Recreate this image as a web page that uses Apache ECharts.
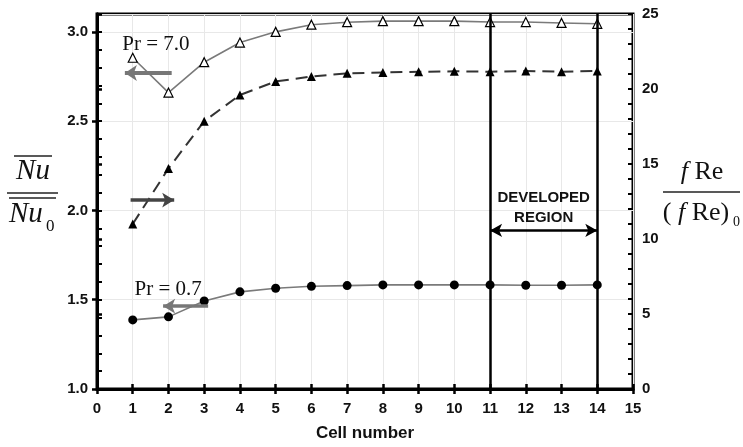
<!DOCTYPE html>
<html><head><meta charset="utf-8">
<script src="https://cdn.jsdelivr.net/npm/echarts@6/dist/echarts.min.js"></script>
<style>html,body{margin:0;padding:0;background:#fff}#c{width:743px;height:447px}</style>
</head><body><div id="c"></div>
<script>
// ---- data ----
const cells = [1, 2, 3, 4, 5, 6, 7, 8, 9, 10, 11, 12, 13, 14];
const nuPr7 = [2.855, 2.66, 2.83, 2.94, 3.0, 3.04, 3.054, 3.06, 3.06, 3.06, 3.055, 3.055, 3.05, 3.045];
const fRePr7 = [11.0, 14.7, 17.85, 19.6, 20.5, 20.83, 21.05, 21.1, 21.15, 21.18, 21.15, 21.2, 21.15, 21.2];
const nuPr07 = [1.387, 1.404, 1.493, 1.544, 1.564, 1.575, 1.579, 1.583, 1.583, 1.583, 1.583, 1.581, 1.581, 1.583];
const xRange = [0, 15];
const leftRange = [1.0, 3.1];
const rightRange = [0, 25];
const developedStart = 11;
const developedEnd = 14;
// annotation anchors (data units)
const pr7Label = { text: 'Pr = 7.0', x: 1.65, y: 2.93 };
const pr07Label = { text: 'Pr = 0.7', x: 1.99, y: 1.56 };
const devLabel = { text: 'DEVELOPED\nREGION', x: 12.5, y: 2.016 };
const pr7Arrow = [[2.09, 2.77], [0.78, 2.77]];
const pr07Arrow = [[3.11, 1.464], [1.85, 1.464]];
const fReArrow = [[0.94, 2.058], [2.16, 2.058]];
const devArrowY = 1.888;

const pair = (xs, ys) => xs.map((x, i) => [x, ys[i]]);

const chart = echarts.init(document.getElementById('c'), null, { renderer: 'canvas' });
const sans = 'Liberation Sans, Arial, sans-serif';
const serif = 'Liberation Serif, Times New Roman, serif';
const tickLabel = { color: '#111', fontFamily: sans, fontWeight: 'bold', fontSize: 15 };

chart.setOption({
  animation: false,
  backgroundColor: '#fff',
  grid: { left: 97, right: 110, top: 14, bottom: 57, show: true, borderColor: '#000', borderWidth: 3, backgroundColor: 'transparent' },
  xAxis: [
    { type: 'value', min: xRange[0], max: xRange[1], interval: 1, position: 'bottom',
      axisLine: { show: true, lineStyle: { color: '#000', width: 3 } },
      axisTick: { show: true, length: 5, lineStyle: { color: '#000', width: 2.5 } },
      axisLabel: Object.assign({ margin: 12 }, tickLabel),
      splitLine: { show: true, lineStyle: { color: '#e8e8e8', width: 1 } },
      name: 'Cell number', nameLocation: 'middle', nameGap: 36,
      nameTextStyle: { fontFamily: sans, fontWeight: 'bold', fontSize: 17, color: '#111' } },
    { type: 'value', min: xRange[0], max: xRange[1], interval: 1, position: 'bottom',
      axisLine: { show: false }, axisTick: { show: true, inside: true, length: 5, lineStyle: { color: '#000', width: 2.5 } },
      axisLabel: { show: false }, splitLine: { show: false } }
  ],
  yAxis: [
    { type: 'value', min: leftRange[0], max: leftRange[1], interval: 0.5, position: 'left',
      axisLine: { show: true, lineStyle: { color: '#000', width: 3 } },
      axisTick: { show: true, length: 5, lineStyle: { color: '#000', width: 2.5 } },
      axisLabel: Object.assign({ margin: 9, showMaxLabel: false, formatter: v => v.toFixed(1) }, tickLabel),
      splitLine: { show: true, lineStyle: { color: '#e8e8e8', width: 1 } } },
    { type: 'value', min: rightRange[0], max: rightRange[1], interval: 5, position: 'right',
      axisLine: { show: true, lineStyle: { color: '#000', width: 3 } },
      axisTick: { show: true, length: 5, lineStyle: { color: '#000', width: 2.5 } },
      axisLabel: Object.assign({ margin: 9 }, tickLabel),
      splitLine: { show: false } },
    { type: 'value', min: leftRange[0], max: leftRange[1], interval: 0.1, position: 'left',
      axisLine: { show: false }, axisTick: { show: true, inside: true, length: 5, lineStyle: { color: '#000', width: 2 } },
      axisLabel: { show: false }, splitLine: { show: false } },
    { type: 'value', min: rightRange[0], max: rightRange[1], interval: 1, position: 'right',
      axisLine: { show: false }, axisTick: { show: true, inside: true, length: 5, lineStyle: { color: '#000', width: 2 } },
      axisLabel: { show: false }, splitLine: { show: false } }
  ],
  series: [
    { name: 'fRe Pr=7.0', type: 'line', xAxisIndex: 0, yAxisIndex: 1, data: pair(cells, fRePr7),
      lineStyle: { color: '#333', width: 2, type: [12, 7] }, symbol: 'triangle', symbolSize: 9,
      itemStyle: { color: '#000', borderColor: '#000', borderWidth: 0 }, z: 3 },
    { name: 'Nu Pr=7.0', type: 'line', xAxisIndex: 0, yAxisIndex: 0, data: pair(cells, nuPr7),
      lineStyle: { color: '#7a7a7a', width: 1.6 }, symbol: 'triangle', symbolSize: 9,
      itemStyle: { color: '#fff', borderColor: '#000', borderWidth: 1.2 }, z: 3 },
    { name: 'Nu Pr=0.7', type: 'line', xAxisIndex: 0, yAxisIndex: 0, data: pair(cells, nuPr07),
      lineStyle: { color: '#7a7a7a', width: 1.6 }, symbol: 'circle', symbolSize: 9,
      itemStyle: { color: '#000' }, z: 3 },
    { name: 'annotations', type: 'line', xAxisIndex: 0, yAxisIndex: 0, data: [], z: 4,
      markLine: {
        silent: true, animation: false, precision: 4,
        label: { show: false },
        data: [
          [{ xAxis: developedStart, yAxis: leftRange[0], symbol: 'none', lineStyle: { color: '#000', width: 2.5, type: 'solid' } },
           { xAxis: developedStart, yAxis: leftRange[1], symbol: 'none' }],
          [{ xAxis: developedEnd, yAxis: leftRange[0], symbol: 'none', lineStyle: { color: '#000', width: 2.5, type: 'solid' } },
           { xAxis: developedEnd, yAxis: leftRange[1], symbol: 'none' }],
          [{ coord: [developedStart, devArrowY], symbol: 'arrow', symbolSize: [10, 12], lineStyle: { color: '#000', width: 2.5, type: 'solid' } },
           { coord: [developedEnd, devArrowY], symbol: 'arrow', symbolSize: [10, 12] }],
          [{ coord: pr7Arrow[0], symbol: 'none', lineStyle: { color: '#777', width: 4, type: 'solid' } },
           { coord: pr7Arrow[1], symbol: 'arrow', symbolSize: [12, 12] }],
          [{ coord: pr07Arrow[0], symbol: 'none', lineStyle: { color: '#777', width: 3.5, type: 'solid' } },
           { coord: pr07Arrow[1], symbol: 'arrow', symbolSize: [11, 12] }],
          [{ coord: fReArrow[0], symbol: 'none', lineStyle: { color: '#444', width: 3.5, type: 'solid' } },
           { coord: fReArrow[1], symbol: 'arrow', symbolSize: [11, 12] }]
        ]
      },
      markPoint: {
        silent: true, animation: false, symbol: 'circle', symbolSize: 0,
        data: [
          { coord: [pr7Label.x, pr7Label.y], value: pr7Label.text,
            label: { show: true, position: 'inside', formatter: pr7Label.text, fontFamily: serif, fontSize: 21, color: '#111' } },
          { coord: [pr07Label.x, pr07Label.y], value: pr07Label.text,
            label: { show: true, position: 'inside', formatter: pr07Label.text, fontFamily: serif, fontSize: 21, color: '#111' } },
          { coord: [devLabel.x, devLabel.y], value: devLabel.text,
            label: { show: true, position: 'inside', formatter: devLabel.text, fontFamily: sans, fontWeight: 'bold', fontSize: 15, lineHeight: 20, color: '#111', align: 'center' } }
        ]
      }
    }
  ],
  graphic: [
    // left axis title: overline(Nu) / overline(Nu_0)
    { type: 'line', shape: { x1: 14, y1: 156, x2: 52, y2: 156 }, style: { stroke: '#222', lineWidth: 1.5 } },
    { type: 'text', x: 33, y: 186, style: { text: 'Nu', font: 'italic 29px ' + serif, fill: '#111', textAlign: 'center', textVerticalAlign: 'bottom' } },
    { type: 'line', shape: { x1: 7, y1: 193, x2: 58, y2: 193 }, style: { stroke: '#222', lineWidth: 1.5 } },
    { type: 'line', shape: { x1: 9, y1: 198, x2: 56, y2: 198 }, style: { stroke: '#222', lineWidth: 1.5 } },
    { type: 'text', x: 9, y: 229, style: { text: 'Nu', font: 'italic 29px ' + serif, fill: '#111', textAlign: 'left', textVerticalAlign: 'bottom' } },
    { type: 'text', x: 46, y: 235, style: { text: '0', font: '17px ' + serif, fill: '#111', textAlign: 'left', textVerticalAlign: 'bottom' } },
    // right axis title: f Re / (f Re)_0
    { type: 'text', x: 702, y: 185, style: { text: '{i|f}{n| Re}', rich: { i: { font: 'italic 26px ' + serif, fill: '#111' }, n: { font: '26px ' + serif, fill: '#111' } }, textAlign: 'center', textVerticalAlign: 'bottom' } },
    { type: 'line', shape: { x1: 663, y1: 192, x2: 740, y2: 192 }, style: { stroke: '#222', lineWidth: 1.5 } },
    { type: 'text', x: 696, y: 226, style: { text: '{n|(}{i| f}{n| Re)}', rich: { i: { font: 'italic 26px ' + serif, fill: '#111' }, n: { font: '26px ' + serif, fill: '#111' } }, textAlign: 'center', textVerticalAlign: 'bottom' } },
    { type: 'text', x: 733, y: 229, style: { text: '0', font: '14px ' + serif, fill: '#111', textAlign: 'left', textVerticalAlign: 'bottom' } }
  ]
});
</script>
</body></html>
